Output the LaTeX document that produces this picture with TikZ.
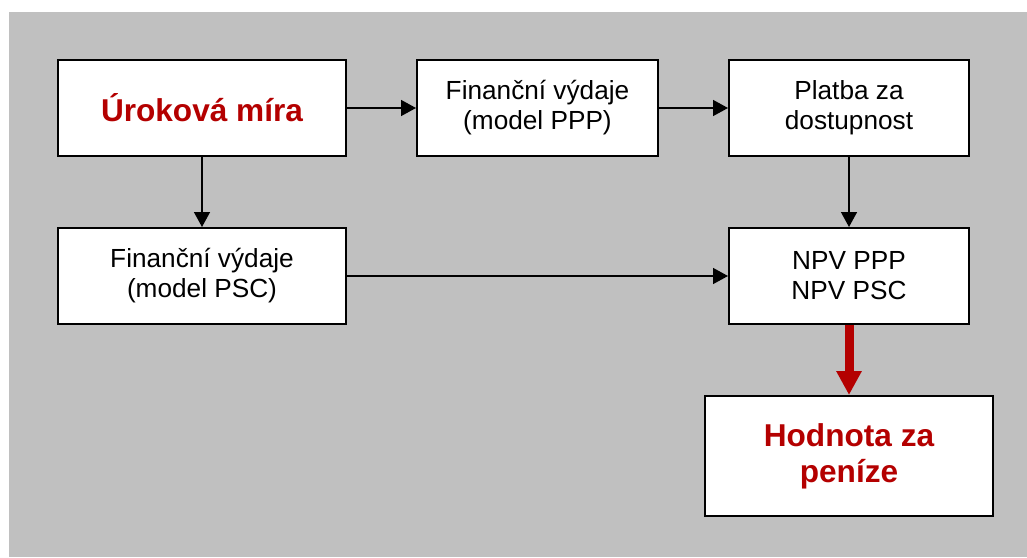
\documentclass[tikz,border=0pt]{standalone}
\usepackage{fontspec}
\setmainfont{Liberation Sans}
\usetikzlibrary{matrix,arrows.meta}
\definecolor{bggray}{RGB}{192,192,192}
\definecolor{darkred}{RGB}{180,0,0}
\tikzset{
  box/.style={draw=black,line width=1pt,fill=white,minimum width=#1,
    minimum height=48pt,inner sep=0pt,align=center,
    font=\fontsize{13.1}{15}\selectfont},
  keybox/.style={text=darkred,font=\fontsize{15.8}{18}\selectfont\bfseries}
}
\begin{document}
\begin{tikzpicture}[x=0.5pt,y=-0.5pt]
  \useasboundingbox (0,0) rectangle (1027,557);
  \fill[bggray] (9,12) rectangle (1027,557);
  \matrix (m) [row sep=35pt,column sep=22.5pt,matrix anchor=rate.center] at (202,108)
  {
     \node[box=144pt,keybox] (rate) {Úroková míra}; &[12pt]
     \node[box=120.5pt] (ppp) {Finanční výdaje\\(model PPP)}; &
     \node[box=120pt] (pay) {Platba za\\dostupnost}; \\
     \node[box=144pt] (psc) {Finanční výdaje\\(model PSC)}; & &
     \node[box=120pt] (npv) {NPV PPP\\NPV PSC}; \\
     & & \node[box=144pt,keybox,minimum height=60pt] (vfm) {Hodnota za\\peníze}; \\
  };
  \path[-{Triangle[length=7.5pt,width=8pt]},line width=0.75pt]
    (rate) edge (ppp)
    (ppp) edge (pay)
    (rate) edge (psc)
    (pay) edge (npv)
    (psc) edge (npv);
  \draw[darkred,line width=4.5pt,-{Triangle[length=12pt,width=12pt]}] (npv) -- (vfm);
\end{tikzpicture}
\end{document}
